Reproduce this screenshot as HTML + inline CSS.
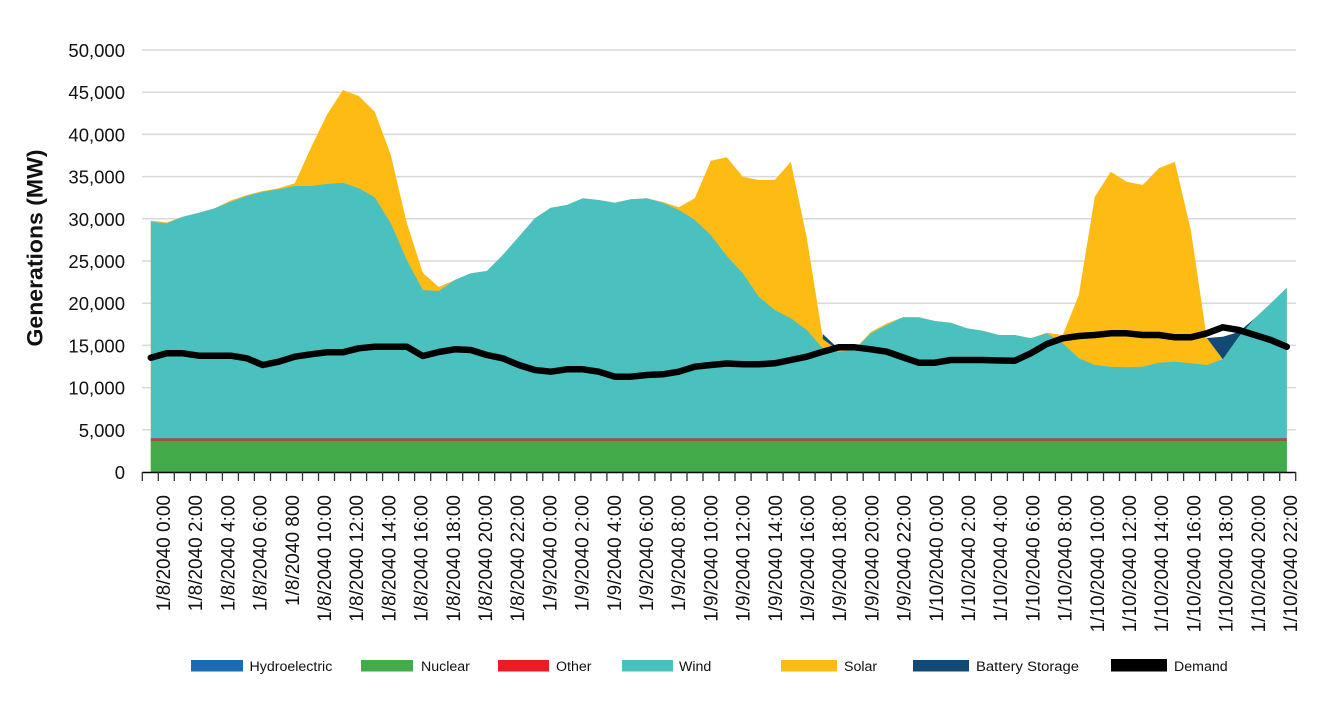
<!DOCTYPE html>
<html>
<head>
<meta charset="utf-8">
<style>
html,body{margin:0;padding:0;background:#fff;}
svg{display:block;}
text{font-family:"Liberation Sans",Arial,sans-serif;fill:#111;}
</style>
</head>
<body>
<svg width="1321" height="721" viewBox="0 0 1321 721" xmlns="http://www.w3.org/2000/svg">
<rect width="1321" height="721" fill="#fff"/>
<!-- gridlines -->
<g stroke="#d9d9d9" stroke-width="1.5">
<line x1="142" y1="50" x2="1296" y2="50"/>
<line x1="142" y1="92.2" x2="1296" y2="92.2"/>
<line x1="142" y1="134.4" x2="1296" y2="134.4"/>
<line x1="142" y1="176.6" x2="1296" y2="176.6"/>
<line x1="142" y1="218.8" x2="1296" y2="218.8"/>
<line x1="142" y1="261" x2="1296" y2="261"/>
<line x1="142" y1="303.2" x2="1296" y2="303.2"/>
<line x1="142" y1="345.4" x2="1296" y2="345.4"/>
<line x1="142" y1="387.6" x2="1296" y2="387.6"/>
<line x1="142" y1="429.8" x2="1296" y2="429.8"/>
</g>
<!-- y tick labels -->
<g font-size="18.5" text-anchor="end">
<text x="125" y="57">50,000</text>
<text x="125" y="99.2">45,000</text>
<text x="125" y="141.4">40,000</text>
<text x="125" y="183.6">35,000</text>
<text x="125" y="225.8">30,000</text>
<text x="125" y="268">25,000</text>
<text x="125" y="310.2">20,000</text>
<text x="125" y="352.4">15,000</text>
<text x="125" y="394.6">10,000</text>
<text x="125" y="436.8">5,000</text>
<text x="125" y="479">0</text>
</g>
<!-- y title -->
<text transform="translate(42.5,248) rotate(-90)" text-anchor="middle" font-size="22" font-weight="bold" textLength="197" lengthAdjust="spacingAndGlyphs">Generations (MW)</text>

<!-- Solar -->
<polygon fill="#fdbb14" points="150.8,472 150.8,220.5 166.8,222.5 182.8,216.7 198.8,212.7 214.8,208.3 230.8,200.5 246.8,195 262.8,191 278.8,188.3 294.8,183.3 310.8,148 326.8,115 342.8,90 358.8,96 374.8,111.7 390.8,155 406.8,223 422.8,272.7 438.8,287 454.8,280 470.8,273.3 486.8,271 502.8,255 518.8,236.7 534.8,218.3 550.8,207.7 566.8,205 582.8,198.3 598.8,200 614.8,202.7 630.8,199.3 646.8,198.3 662.8,202 678.8,207.3 694.8,198.3 710.8,160.7 726.8,157.3 742.8,176.7 758.8,180 774.8,180 790.8,161.7 806.8,238 822.8,338 838.8,350.5 854.8,349 870.8,332 886.8,323.5 902.8,317.3 918.8,317.3 934.8,321 950.8,322.7 966.8,328.3 982.8,330.7 998.8,335 1014.8,335 1030.8,338.3 1046.8,332.7 1062.8,335 1078.8,295 1094.8,196.7 1110.8,171.7 1126.8,181.7 1142.8,185 1158.8,168.3 1174.8,161.7 1190.8,230 1206.8,338 1222.8,359.3 1238.8,336.7 1254.8,318.3 1270.8,303.3 1286.8,287.7 1286.8,472"/>
<!-- Wind -->
<polygon fill="#4bc1bf" points="150.8,472 150.8,221.7 166.8,223.3 182.8,216.7 198.8,212.7 214.8,208.3 230.8,201.7 246.8,196 262.8,191.7 278.8,189.3 294.8,186 310.8,186 326.8,184 342.8,182.7 358.8,188.3 374.8,197.3 390.8,223.3 406.8,260 422.8,290 438.8,291 454.8,280 470.8,273.3 486.8,271 502.8,255 518.8,236.7 534.8,218.3 550.8,207.7 566.8,205 582.8,198.3 598.8,200 614.8,202.7 630.8,199.3 646.8,198.3 662.8,202.7 678.8,210 694.8,220 710.8,235 726.8,256 742.8,273.3 758.8,296.7 774.8,310 790.8,318.3 806.8,330 822.8,348.3 838.8,351.7 854.8,350 870.8,333.3 886.8,325 902.8,317.3 918.8,317.3 934.8,321 950.8,322.7 966.8,328.3 982.8,330.7 998.8,335 1014.8,335 1030.8,338.3 1046.8,333.3 1062.8,343.3 1078.8,358.3 1094.8,365 1110.8,366.7 1126.8,367.3 1142.8,366.7 1158.8,362.7 1174.8,361.7 1190.8,363.3 1206.8,365 1222.8,359.3 1238.8,336.7 1254.8,318.3 1270.8,303.3 1286.8,287.7 1286.8,472"/>
<!-- Battery -->
<polygon fill="#124a75" points="822.8,334 838.8,349 854.8,349 838.8,350.8 822.8,339"/>
<polygon fill="#124a75" points="1206.8,338 1222.8,336.7 1238.8,332 1254.8,318.3 1238.8,336.7 1222.8,359.3"/>
<!-- Other -->
<rect x="150.8" y="438.2" width="1136" height="2.9" fill="#9c5442"/>
<!-- Nuclear -->
<rect x="150.8" y="441" width="1136" height="31" fill="#43ab4a"/>

<!-- Demand -->
<polyline fill="none" stroke="#000" stroke-width="6.5" stroke-linejoin="round" stroke-linecap="round" points="150.8,357.7 166.8,353.3 182.8,353.3 198.8,355.7 214.8,355.7 230.8,355.7 246.8,358.3 262.8,365 278.8,361.7 294.8,356.7 310.8,354.3 326.8,352.3 342.8,352.3 358.8,348.3 374.8,346.7 390.8,346.7 406.8,346.7 422.8,356 438.8,352 454.8,349.3 470.8,350 486.8,355 502.8,358.3 518.8,365 534.8,370 550.8,371.7 566.8,369.3 582.8,369.3 598.8,371.7 614.8,376.7 630.8,376.7 646.8,375 662.8,374.3 678.8,371.7 694.8,366.7 710.8,365 726.8,363.5 742.8,364.3 758.8,364.3 774.8,363.3 790.8,360 806.8,356.7 822.8,351.7 838.8,347.3 854.8,347.3 870.8,349.3 886.8,351.7 902.8,357.3 918.8,362.7 934.8,362.7 950.8,360 966.8,360 982.8,360 998.8,360.5 1014.8,360.7 1030.8,353.3 1046.8,344 1062.8,338.3 1078.8,336 1094.8,335 1110.8,333.3 1126.8,333.3 1142.8,335 1158.8,335 1174.8,337.3 1190.8,337.3 1206.8,333.3 1222.8,327.3 1238.8,330 1254.8,335 1270.8,340 1286.8,346.7"/>

<!-- x axis -->
<line x1="142.3" y1="472.5" x2="1295.7" y2="472.5" stroke="#000" stroke-width="1.5"/>
<path stroke="#333" stroke-width="1.3" fill="none" d="M142.3 472v9M158.3 472v9M174.3 472v9M190.4 472v9M206.4 472v9M222.4 472v9M238.4 472v9M254.4 472v9M270.5 472v9M286.5 472v9M302.5 472v9M318.5 472v9M334.5 472v9M350.6 472v9M366.6 472v9M382.6 472v9M398.6 472v9M414.6 472v9M430.7 472v9M446.7 472v9M462.7 472v9M478.7 472v9M494.7 472v9M510.8 472v9M526.8 472v9M542.8 472v9M558.8 472v9M574.8 472v9M590.9 472v9M606.9 472v9M622.9 472v9M638.9 472v9M654.9 472v9M671 472v9M687 472v9M703 472v9M719 472v9M735 472v9M751.1 472v9M767.1 472v9M783.1 472v9M799.1 472v9M815.1 472v9M831.2 472v9M847.2 472v9M863.2 472v9M879.2 472v9M895.2 472v9M911.3 472v9M927.3 472v9M943.3 472v9M959.3 472v9M975.3 472v9M991.4 472v9M1007.4 472v9M1023.4 472v9M1039.4 472v9M1055.4 472v9M1071.5 472v9M1087.5 472v9M1103.5 472v9M1119.5 472v9M1135.5 472v9M1151.6 472v9M1167.6 472v9M1183.6 472v9M1199.6 472v9M1215.6 472v9M1231.7 472v9M1247.7 472v9M1263.7 472v9M1279.7 472v9M1295.7 472v9"/>

<!-- x labels -->
<g font-size="19" text-anchor="end">
<text transform="translate(170,495) rotate(-90)">1/8/2040 0:00</text>
<text transform="translate(202.2,495) rotate(-90)">1/8/2040 2:00</text>
<text transform="translate(234.4,495) rotate(-90)">1/8/2040 4:00</text>
<text transform="translate(266.6,495) rotate(-90)">1/8/2040 6:00</text>
<text transform="translate(298.8,495) rotate(-90)">1/8/2040 800</text>
<text transform="translate(331,495) rotate(-90)">1/8/2040 10:00</text>
<text transform="translate(363.2,495) rotate(-90)">1/8/2040 12:00</text>
<text transform="translate(395.4,495) rotate(-90)">1/8/2040 14:00</text>
<text transform="translate(427.6,495) rotate(-90)">1/8/2040 16:00</text>
<text transform="translate(459.8,495) rotate(-90)">1/8/2040 18:00</text>
<text transform="translate(492,495) rotate(-90)">1/8/2040 20:00</text>
<text transform="translate(524.2,495) rotate(-90)">1/8/2040 22:00</text>
<text transform="translate(556.4,495) rotate(-90)">1/9/2040 0:00</text>
<text transform="translate(588.6,495) rotate(-90)">1/9/2040 2:00</text>
<text transform="translate(620.8,495) rotate(-90)">1/9/2040 4:00</text>
<text transform="translate(653,495) rotate(-90)">1/9/2040 6:00</text>
<text transform="translate(685.2,495) rotate(-90)">1/9/2040 8:00</text>
<text transform="translate(717.4,495) rotate(-90)">1/9/2040 10:00</text>
<text transform="translate(749.6,495) rotate(-90)">1/9/2040 12:00</text>
<text transform="translate(781.8,495) rotate(-90)">1/9/2040 14:00</text>
<text transform="translate(814,495) rotate(-90)">1/9/2040 16:00</text>
<text transform="translate(846.2,495) rotate(-90)">1/9/2040 18:00</text>
<text transform="translate(878.4,495) rotate(-90)">1/9/2040 20:00</text>
<text transform="translate(910.6,495) rotate(-90)">1/9/2040 22:00</text>
<text transform="translate(942.8,495) rotate(-90)">1/10/2040 0:00</text>
<text transform="translate(975,495) rotate(-90)">1/10/2040 2:00</text>
<text transform="translate(1007.2,495) rotate(-90)">1/10/2040 4:00</text>
<text transform="translate(1039.4,495) rotate(-90)">1/10/2040 6:00</text>
<text transform="translate(1071.6,495) rotate(-90)">1/10/2040 8:00</text>
<text transform="translate(1103.8,495) rotate(-90)">1/10/2040 10:00</text>
<text transform="translate(1136,495) rotate(-90)">1/10/2040 12:00</text>
<text transform="translate(1168.2,495) rotate(-90)">1/10/2040 14:00</text>
<text transform="translate(1200.4,495) rotate(-90)">1/10/2040 16:00</text>
<text transform="translate(1232.6,495) rotate(-90)">1/10/2040 18:00</text>
<text transform="translate(1264.8,495) rotate(-90)">1/10/2040 20:00</text>
<text transform="translate(1297,495) rotate(-90)">1/10/2040 22:00</text>
</g>

<!-- legend -->
<rect x="191" y="660" width="52" height="11.5" fill="#1a6db5"/>
<rect x="361" y="660" width="52" height="11.5" fill="#43ab4a"/>
<rect x="498" y="660" width="51" height="11.5" fill="#ed1c24"/>
<rect x="622" y="660" width="51" height="11.5" fill="#4bc1bf"/>
<rect x="781" y="660" width="56" height="11.5" fill="#fdbb14"/>
<rect x="913" y="660" width="56" height="11.5" fill="#124a75"/>
<rect x="1111" y="659" width="56" height="12.5" fill="#000"/>
<g font-size="14.2">
<text x="249.5" y="671">Hydroelectric</text>
<text x="421" y="671">Nuclear</text>
<text x="556" y="671">Other</text>
<text x="679" y="671">Wind</text>
<text x="844" y="671">Solar</text>
<text x="976" y="671" textLength="103" lengthAdjust="spacingAndGlyphs">Battery Storage</text>
<text x="1174" y="671">Demand</text>
</g>
</svg>
</body>
</html>
